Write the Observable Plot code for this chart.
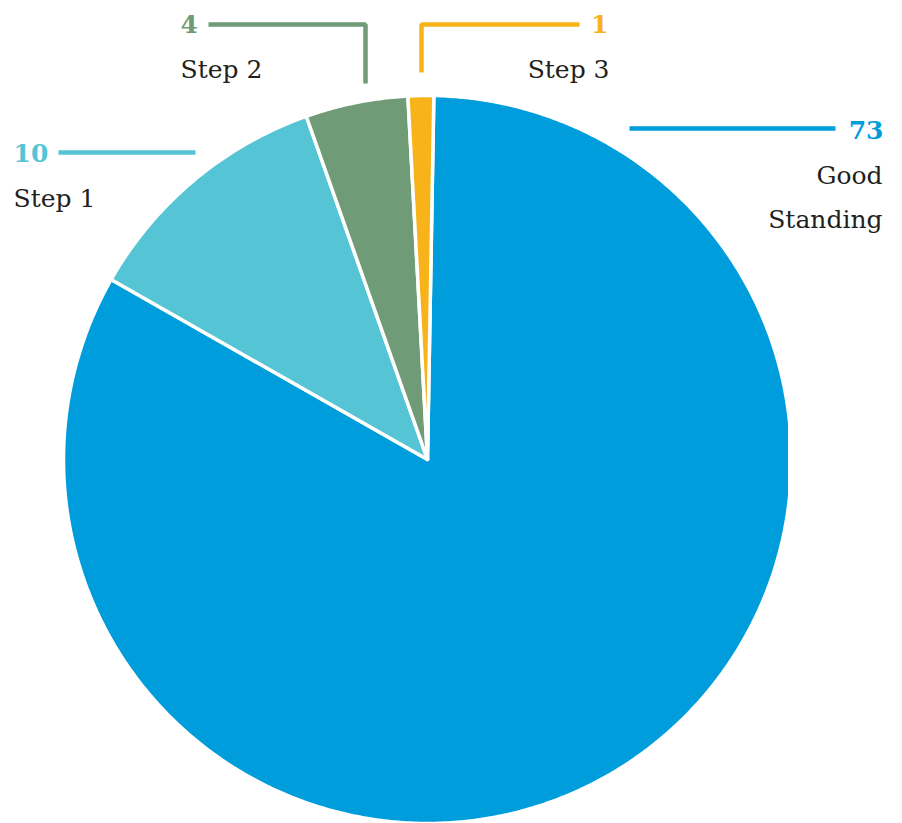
<!DOCTYPE html>
<html><head><meta charset="utf-8">
<script src="https://cdn.jsdelivr.net/npm/d3@7"></script>
<script src="https://cdn.jsdelivr.net/npm/@observablehq/plot@0.6"></script>
<style>body{margin:0;background:#fff}</style>
</head><body><div id="chart"></div>
<script>
// ---- data ----
const categories = ["Good Standing", "Step 1", "Step 2", "Step 3"];
const values = [73, 10, 4, 1];
const valueLabels = ["73", "10", "4", "1"];
const nameLabels = ["Good\nStanding", "Step 1", "Step 2", "Step 3"];
const colors = ["#009ddc", "#55c4d5", "#6f9b76", "#f8b21a"];

// ---- layout (pixels) ----
const W = 902, H = 823, cx = 427, cy = 459, R = 364, clipRight = 788;
const rotation = 1 * Math.PI / 180;
const leaderLayout = {
  "Good Standing": {line: [[629,128],[835,128]], value: [883,138,"end"], name: [882,227,"end"]},
  "Step 1": {line: [[58,152],[195,152]], value: [13,161,"start"], name: [13,206,"start"]},
  "Step 2": {line: [[208,24],[365,24],[365,83]], value: [180,32,"start"], name: [180,77,"start"]},
  "Step 3": {line: [[421,72],[421,24],[579,24]], value: [608,32,"end"], name: [609,77,"end"]}
};
const ux = px => (px - cx) / R;
const uy = py => (cy - py) / R;

// ---- wedges from d3.pie ----
const arcs = d3.pie().sort(null).startAngle(rotation).endAngle(rotation + 2 * Math.PI)(values);
const wedgePts = [];
arcs.forEach((a, i) => {
  const name = categories[i];
  wedgePts.push({name, x: 0, y: 0});
  const n = Math.max(2, Math.ceil((a.endAngle - a.startAngle) / (Math.PI / 360)));
  for (let k = 0; k <= n; k++) {
    const t = a.startAngle + (a.endAngle - a.startAngle) * k / n;
    wedgePts.push({name, x: Math.sin(t), y: Math.cos(t)});
  }
});

// ---- leaders and labels ----
const leaderPts = [];
const labelRows = [];
categories.forEach((name, i) => {
  const L = leaderLayout[name];
  L.line.forEach(([px, py]) => leaderPts.push({name, x: ux(px), y: uy(py)}));
  labelRows.push({name, kind: "value", text: valueLabels[i], x: ux(L.value[0]), y: uy(L.value[1]), anchor: L.value[2]});
  labelRows.push({name, kind: "name", text: nameLabels[i], x: ux(L.name[0]), y: uy(L.name[1]), anchor: L.name[2]});
});

const font = "DejaVu Serif";
const textMark = (kind, anchor, opts) => Plot.text(
  labelRows.filter(d => d.kind === kind && d.anchor === anchor),
  {x: "x", y: "y", text: "text", textAnchor: anchor, lineAnchor: "bottom",
   fontFamily: font, fontSize: 25, ...opts}
);

const chart = Plot.plot({
  width: W, height: H,
  marginLeft: 0, marginTop: 0, marginBottom: 0, marginRight: W - clipRight,
  x: {type: "linear", domain: [-1, 1], range: [cx - R, cx + R], axis: null},
  y: {type: "linear", domain: [-1, 1], range: [cy + R, cy - R], axis: null},
  color: {domain: categories, range: colors},
  style: {fontFamily: font, background: "#fff"},
  marks: [
    Plot.line(wedgePts, {x: "x", y: "y", z: "name", fill: "name", stroke: "white",
      strokeWidth: 3.5, strokeLinejoin: "round", curve: "linear-closed", clip: true}),
    Plot.line(leaderPts, {x: "x", y: "y", z: "name", stroke: "name", strokeWidth: 4.5,
      strokeLinejoin: "miter", strokeLinecap: "butt"}),
    textMark("value", "start", {fill: "name", fontWeight: "bold"}),
    textMark("value", "end", {fill: "name", fontWeight: "bold"}),
    textMark("name", "start", {fill: "#231f20"}),
    textMark("name", "end", {fill: "#231f20", lineHeight: 1.76})
  ]
});
document.getElementById("chart").appendChild(chart);
</script>
</body></html>
